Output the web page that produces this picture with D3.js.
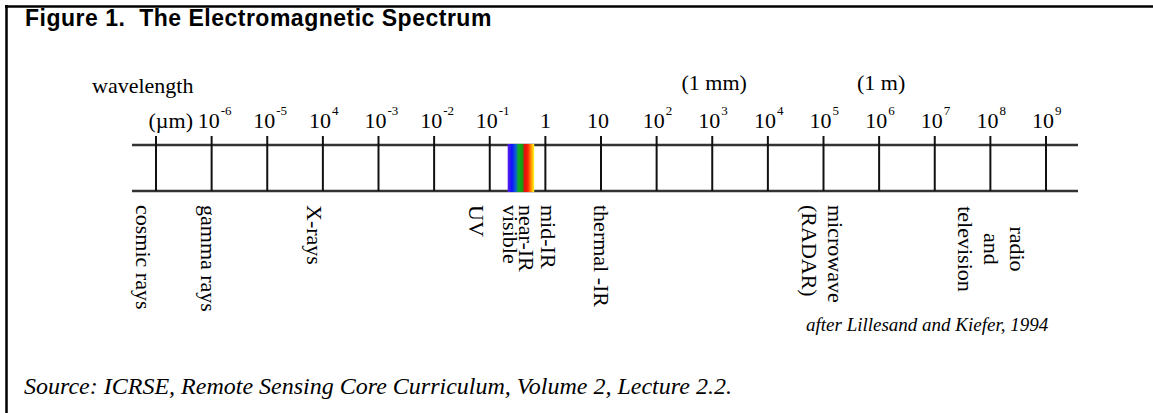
<!DOCTYPE html>
<html>
<head>
<meta charset="utf-8">
<script src="https://cdn.jsdelivr.net/npm/d3@7"></script>
<style>
  body { margin: 0; background: #fff; }
  svg text { font-family: "Liberation Serif", "Times New Roman", serif; fill: #000; }
</style>
</head>
<body>
<script>
// Wavelength decades on the scale (micrometres, as exponents of 10)
var tickExponents = [-7, -6, -5, -4, -3, -2, -1, 0, 1, 2, 3, 4, 5, 6, 7, 8, 9];
// Label drawn above each tick: base text and superscript (as printed)
var tickBase = ["", "10", "10", "10", "10", "10", "10", "1", "10", "10", "10", "10", "10", "10", "10", "10", "10"];
var tickSup  = ["", "-6", "-5", "4", "-3", "-2", "-1", "", "", "2", "3", "4", "5", "6", "7", "8", "9"];

// Reference units above the scale
var unitNames  = ["(1 mm)", "(1 m)"];
var unitValues = [1e3, 1e6];

// Spectral regions below the scale and their wavelength (micrometres)
var regionNames = [
  ["cosmic rays"], ["gamma rays"], ["X-rays"], ["UV"], ["visible"],
  ["near-IR"], ["mid-IR"], ["thermal -IR"], ["microwave", "(RADAR)"],
  ["radio", "and", "television"]
];
var regionValues = [6.0e-8, 8.9e-7, 7.2e-5, 0.0575, 0.24, 0.457, 1.17, 10.2, 9.8e4, 1.05e8];

// Colour band of the visible light (micrometres)
var visibleBand = [0.21, 0.63];

var width = 1153, height = 413;

var svg = d3.select("body").append("svg")
    .attr("width", width)
    .attr("height", height);

// log scale of wavelength
var x = d3.scaleLog().domain([1e-7, 1e9]).range([156, 1046]);

var lineTop = 145, lineBottom = 191;

// frame
svg.append("line")
    .attr("x1", 5).attr("x2", width)
    .attr("y1", 6.5).attr("y2", 6.5)
    .style("stroke", "#000").style("stroke-width", 2.5);
svg.append("line")
    .attr("x1", 6.5).attr("x2", 6.5)
    .attr("y1", 5).attr("y2", height)
    .style("stroke", "#000").style("stroke-width", 2.5);

// title
svg.append("text")
    .attr("x", 25)
    .attr("y", 25.5)
    .style("font-family", "'Liberation Sans', Arial, sans-serif")
    .style("font-weight", "bold")
    .style("font-size", "23px")
    .style("letter-spacing", "0.5px")
    .attr("xml:space", "preserve")
    .text("Figure 1.  The Electromagnetic Spectrum");

// the two horizontal rails
svg.selectAll(".rail")
    .data([lineTop, lineBottom])
    .enter().append("line")
    .attr("class", "rail")
    .attr("x1", 132).attr("x2", 1078)
    .attr("y1", function (d) { return d; })
    .attr("y2", function (d) { return d; })
    .style("stroke", "#333")
    .style("stroke-width", 2.5);

// decade ticks
svg.selectAll(".tick")
    .data(tickExponents)
    .enter().append("line")
    .attr("class", "tick")
    .attr("x1", function (d) { return x(Math.pow(10, d)); })
    .attr("x2", function (d) { return x(Math.pow(10, d)); })
    .attr("y1", 136)
    .attr("y2", lineBottom)
    .style("stroke", "#111")
    .style("stroke-width", 2);

// visible colour band
var grad = svg.append("defs").append("linearGradient")
    .attr("id", "rainbow")
    .attr("x1", "0%").attr("x2", "100%");
[["0%", "#5a1ee6"], ["16%", "#1010ff"], ["30%", "#0a60d0"], ["42%", "#10b020"],
 ["55%", "#10a010"], ["64%", "#e01010"], ["76%", "#ff2000"], ["88%", "#ff9000"], ["100%", "#ffff20"]]
    .forEach(function (s) {
        grad.append("stop").attr("offset", s[0]).attr("stop-color", s[1]);
    });
svg.append("rect")
    .attr("x", x(visibleBand[0]))
    .attr("y", lineTop - 1)
    .attr("width", x(visibleBand[1]) - x(visibleBand[0]))
    .attr("height", lineBottom - lineTop + 2)
    .style("fill", "url(#rainbow)");

// axis captions
svg.append("text")
    .attr("x", 92).attr("y", 93)
    .style("font-size", "22px")
    .text("wavelength");
svg.append("text")
    .attr("x", x(1e-7) + 37).attr("y", 128)
    .attr("text-anchor", "end")
    .style("font-size", "22px")
    .text("(\u00b5m)");

// tick labels with superscripts
var labels = svg.selectAll(".tlabel")
    .data(tickExponents.map(function (e, i) { return { e: e, base: tickBase[i], sup: tickSup[i] }; })
        .filter(function (d) { return d.base !== ""; }))
    .enter().append("text")
    .attr("class", "tlabel")
    .attr("x", function (d) { return d.base === "1" ? x(Math.pow(10, d.e)) : x(Math.pow(10, d.e)) - 14; })
    .attr("y", 128)
    .attr("text-anchor", function (d) { return d.base === "1" ? "middle" : "start"; })
    .style("font-size", "22px");
labels.append("tspan").text(function (d) { return d.base; });
labels.append("tspan")
    .attr("dx", 1)
    .attr("dy", -13)
    .style("font-size", "13px")
    .text(function (d) { return d.sup; });

// unit markers
svg.selectAll(".unit")
    .data(unitNames)
    .enter().append("text")
    .attr("class", "unit")
    .attr("x", function (d, i) { return x(unitValues[i]) + 2; })
    .attr("y", 90)
    .attr("text-anchor", "middle")
    .attr("xml:space", "preserve")
    .style("font-size", "22px")
    .text(function (d) { return d; });

// region names, rotated to read downward
var lineStep = 26;
var regions = svg.selectAll(".region")
    .data(regionNames.map(function (n, i) { return { lines: n, v: regionValues[i] }; }))
    .enter().append("g")
    .attr("class", "region")
    .attr("transform", function (d) { return "translate(" + x(d.v) + ",205) rotate(90)"; });

regions.each(function (d) {
    var centred = d.lines.length > 2;
    var g = d3.select(this);
    d.lines.forEach(function (ln, i) {
        g.append("text")
            .attr("x", centred ? 44 : 0)
            .attr("y", (i - (d.lines.length - 1) / 2) * lineStep)
            .attr("dy", "0.35em")
            .attr("text-anchor", centred ? "middle" : "start")
            .style("font-size", "22px")
            .text(ln);
    });
});

// credits
svg.append("text")
    .attr("x", 806).attr("y", 331)
    .style("font-style", "italic")
    .style("font-size", "19px")
    .text("after Lillesand and Kiefer, 1994");

svg.append("text")
    .attr("x", 24).attr("y", 394)
    .style("font-style", "italic")
    .style("font-size", "24px")
    .text("Source: ICRSE, Remote Sensing Core Curriculum, Volume 2, Lecture 2.2.");
</script>
</body>
</html>
